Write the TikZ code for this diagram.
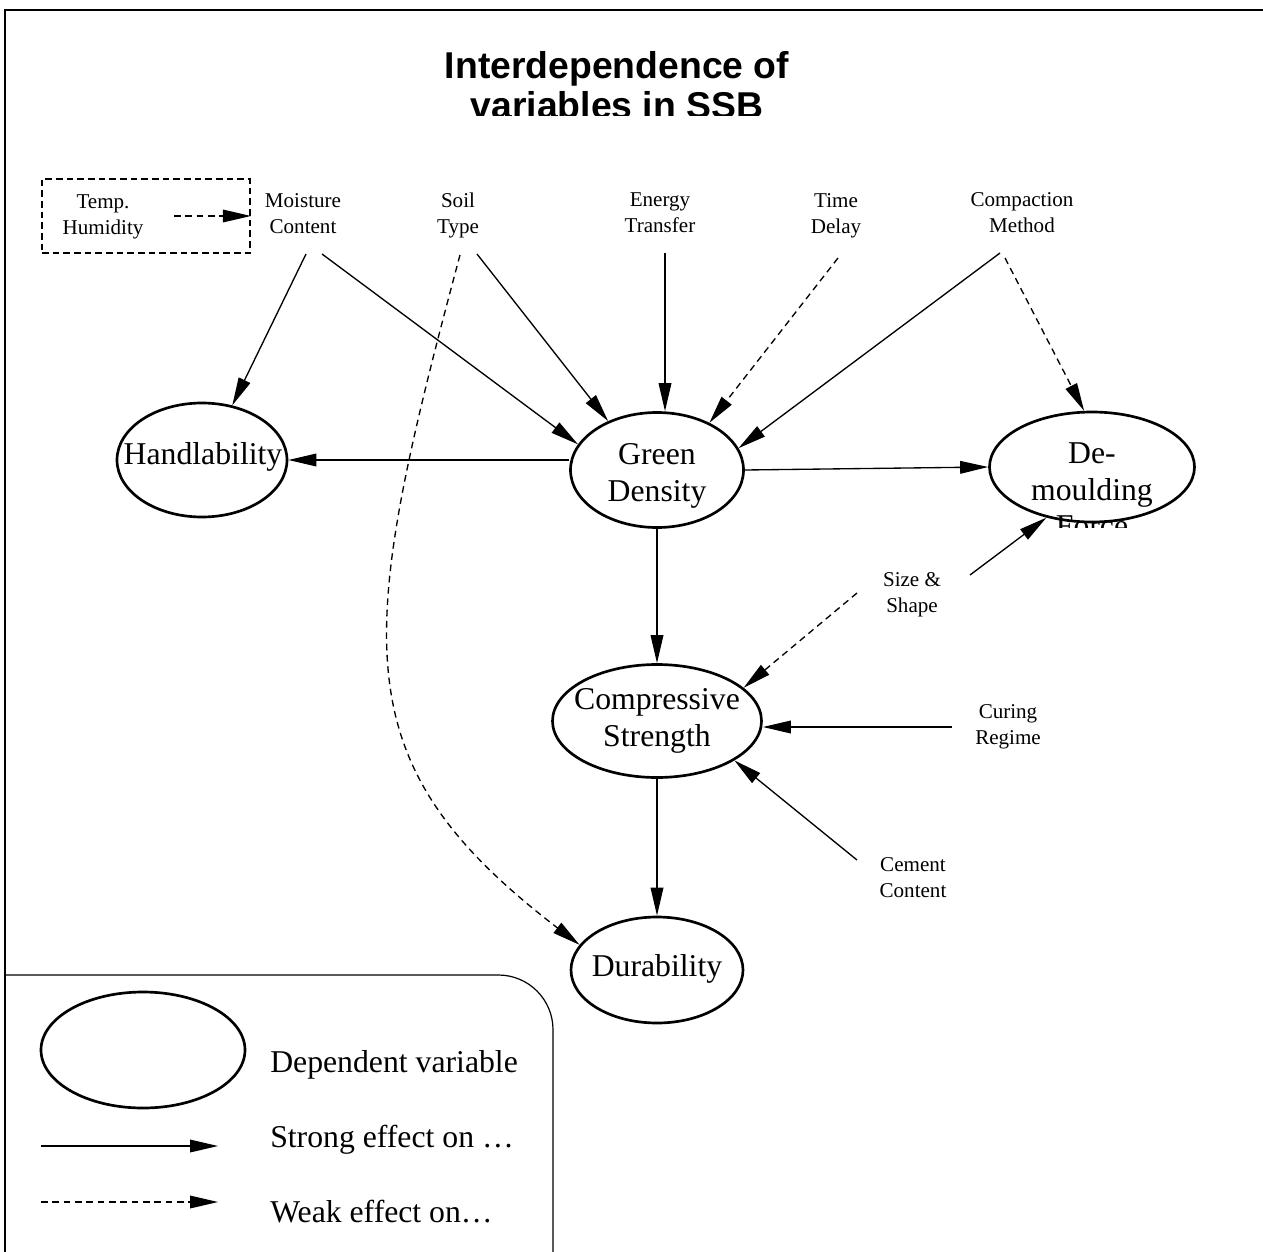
\documentclass[tikz,border=0pt]{standalone}
\usepackage{fontspec}
\setmainfont{Liberation Serif}
\newfontfamily\titlefont{Liberation Sans}
\usetikzlibrary{arrows.meta,shapes.geometric}
\tikzset{
  >={Triangle[length=21pt,width=9.5pt]},
  strong/.style={->, line width=1pt},
  weak/.style={->, line width=1pt, dash pattern=on 5pt off 3.5pt},
  dep/.style={draw, ellipse, line width=2pt, inner sep=0pt},
  bigtxt/.style={font=\fontsize{23.8}{27.5}\selectfont, align=center, inner sep=0pt},
  smalltxt/.style={font=\fontsize{15.8}{19.5}\selectfont, align=center, inner sep=0pt},
  legtxt/.style={font=\fontsize{23.8}{27.5}\selectfont, inner sep=0pt, anchor=base west},
}
\begin{document}
\begin{tikzpicture}[x=0.75pt,y=-0.75pt]
\useasboundingbox (0,0) rectangle (1263,1252);
\fill[white] (0,0) rectangle (1263,1252);
% outer frame
\draw[line width=1.2pt] (1263,10) -- (5,10) -- (5,1252);
% title
\begin{scope}
\clip (0,0) rectangle (1263,116);
\node[inner sep=0pt, align=center, font=\titlefont\bfseries\fontsize{28}{30}\selectfont] (title) at (617,85) {Interdependence of\\variables in SSB};
\end{scope}
% environment box
\node[draw, line width=1.3pt, dash pattern=on 5pt off 3pt, minimum width=156pt, minimum height=55.5pt, inner sep=0pt] (envbox) at (146,216) {};
\node[smalltxt] (temp) at (103,216.5) {Temp.\\Humidity};
\coordinate (t1) at (174,216);
\draw[weak] (t1) -- (envbox.east);
% source labels
\node[smalltxt] (moist) at (303,214) {Moisture\\Content};
\node[smalltxt] (soil) at (458,215) {Soil\\Type};
\node[smalltxt] (energy) at (660,213) {Energy\\Transfer};
\node[smalltxt] (time) at (836,215.3) {Time\\Delay};
\node[smalltxt] (compact) at (1022,213) {Compaction\\Method};
\node[smalltxt] (size) at (912,595) {Size \&\\Shape};
\node[smalltxt] (curing) at (1008,726.5) {Curing\\Regime};
\node[smalltxt] (cement) at (913,877.5) {Cement\\Content};
% dependent variables
\node[dep, minimum width=127.5pt, minimum height=85.5pt] (hand) at (202,460) {};
\node[bigtxt] (handT) at (203,457) {Handlability};
\node[dep, minimum width=129.75pt, minimum height=86.25pt] (green) at (657,470) {};
\node[bigtxt] (greenT) at (657,476) {Green\\Density};
\node[dep, minimum width=153.75pt, minimum height=82.5pt] (demo) at (1092,467) {};
\begin{scope}
\clip (980,430) rectangle (1210,527);
\node[bigtxt] (demoT) at (1092,490) {De-\\moulding\\Force};
\end{scope}
\node[dep, minimum width=156.75pt, minimum height=84.75pt] (comp) at (657,721) {};
\node[bigtxt] (compT) at (657,721) {Compressive\\Strength};
\node[dep, minimum width=129pt, minimum height=79.5pt] (dur) at (657,970) {};
\node[bigtxt] (durT) at (657,968.5) {Durability};
% start points
\coordinate (m1) at (306,254);
\coordinate (m2) at (322,254);
\coordinate (s1) at (477,254);
\coordinate (s2) at (460,255);
\coordinate (e1) at (665,253);
\coordinate (d1) at (838,258);
\coordinate (c1) at (1000,253);
\coordinate (c2) at (1005,258);
\coordinate (z1) at (970,575);
\coordinate (z2) at (857,593);
\coordinate (r1) at (952,727);
\coordinate (k1) at (857,860);
% connectors
\draw[strong] (m1) -- (hand.61.5);
\draw[strong] (m2) -- (green.162);
\draw[strong] (s1) -- (green.135);
\draw[weak] (s2) .. controls (356,643) and (341,762) .. (dur.162);
\draw[strong] (e1) -- (e1 |- green.north);
\draw[weak] (d1) -- (green.42.7);
\draw[strong] (c1) -- (green.15.7);
\draw[weak] (c2) -- (demo.98.7);
\draw[strong] (green.west |- hand.east) -- (hand.east);
\draw[strong] (green.east) -- (demo.west);
\draw[strong] (green.south) -- (comp.north);
\draw[strong] (z1) -- (demo.-132.3);
\draw[weak] (z2) -- (comp.21.7);
\draw[strong] (r1) -- (r1 -| comp.east);
\draw[strong] (k1) -- (comp.-27.6);
\draw[strong] (comp.south) -- (dur.north);
% legend
\draw[line width=0.9pt, rounded corners=41pt] (5,975) -- (553,975) -- (553,1252);
\node[dep, minimum width=153pt, minimum height=87pt] (lgell) at (143,1050) {};
\node[legtxt] (lgdep) at (270,1072) {Dependent variable};
\coordinate (ls1) at (41,1146);
\coordinate (ls2) at (218,1146);
\draw[strong] (ls1) -- (ls2);
\node[legtxt] (lgstrong) at (270,1147) {Strong effect on …};
\coordinate (lw1) at (41,1202);
\coordinate (lw2) at (218,1202);
\draw[weak] (lw1) -- (lw2);
\node[legtxt] (lgweak) at (270,1222) {Weak effect on…};
\end{tikzpicture}
\end{document}
